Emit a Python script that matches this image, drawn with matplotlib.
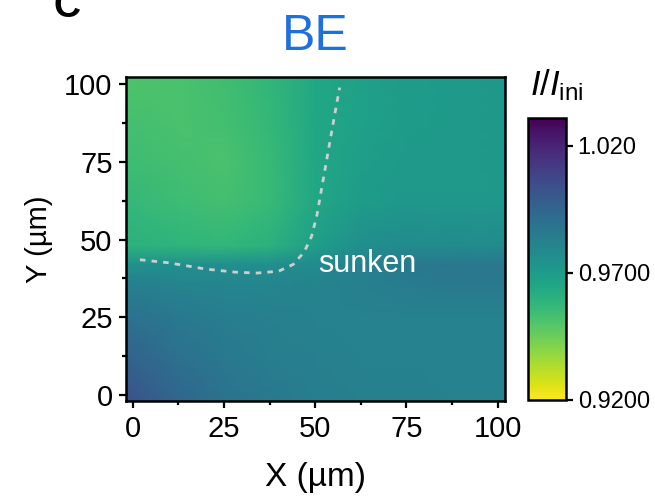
import numpy as np
import matplotlib
matplotlib.use('Agg')
from matplotlib import pyplot as plt
from matplotlib.ticker import MultipleLocator, AutoMinorLocator

plt.rcParams.update({
    'font.family': ['Liberation Sans', 'DejaVu Sans'],
    'mathtext.fontset': 'custom',
    'mathtext.rm': 'Liberation Sans',
    'mathtext.it': 'Liberation Sans:italic',
})

# grid (x, y in um), values are I/I_ini
xs = [-2, 12.5, 25, 37.5, 50, 62.5, 75, 87.5, 102]
ys = [-2, 12.5, 25, 36, 42, 48, 62.5, 75, 87.5, 103]
vals = [
    [1.003, 0.995, 0.989, 0.986, 0.984, 0.983, 0.983, 0.982, 0.982],
    [0.996, 0.990, 0.986, 0.984, 0.983, 0.982, 0.982, 0.982, 0.982],
    [0.990, 0.986, 0.984, 0.983, 0.982, 0.982, 0.982, 0.982, 0.982],
    [0.983, 0.981, 0.980, 0.980, 0.981, 0.983, 0.985, 0.986, 0.986],
    [0.975, 0.976, 0.976, 0.976, 0.978, 0.982, 0.986, 0.987, 0.987],
    [0.960, 0.959, 0.958, 0.960, 0.969, 0.976, 0.978, 0.978, 0.978],
    [0.957, 0.955, 0.953, 0.956, 0.965, 0.970, 0.972, 0.972, 0.972],
    [0.955, 0.953, 0.952, 0.956, 0.965, 0.969, 0.971, 0.971, 0.972],
    [0.953, 0.952, 0.953, 0.957, 0.965, 0.968, 0.970, 0.971, 0.972],
    [0.951, 0.952, 0.954, 0.958, 0.965, 0.968, 0.970, 0.971, 0.972],
]

# dashed boundary of the sunken area
line_x = [2, 10, 20, 28, 34, 40, 44, 47, 49, 50.5, 52, 53.5, 55, 56.7]
line_y = [43.5, 42.5, 40.5, 39.5, 39.2, 39.8, 42, 46, 51, 58, 68, 78, 88, 99]

cticks = [0.92, 0.97, 1.02]
ctick_labels = ['0.9200', '0.9700', '1.020']

fig = plt.figure(figsize=(6.55, 4.98), dpi=100)
ax = fig.add_axes([0.193, 0.195, 0.578, 0.651])
cax = fig.add_axes([0.806, 0.197, 0.058, 0.566])

X, Y = np.meshgrid(xs, ys)
mesh = ax.pcolormesh(X, Y, np.array(vals), shading='gouraud', cmap='viridis_r',
                     vmin=0.92, vmax=1.031, rasterized=True)
ax.plot(line_x, line_y, ls=(0, (2, 2.2)), color='#cfcfcf', lw=2)
ax.text(50.7, 39.4, 'sunken', color='white', fontsize=22, va='baseline', ha='left')

ax.set_xlim(-1.7, 102)
ax.set_ylim(-2, 102.5)
ax.xaxis.set_major_locator(MultipleLocator(25))
ax.yaxis.set_major_locator(MultipleLocator(25))
ax.xaxis.set_minor_locator(AutoMinorLocator(2))
ax.yaxis.set_minor_locator(AutoMinorLocator(2))
ax.tick_params(which='major', length=5, width=1.6, labelsize=21, pad=5, direction='out')
ax.tick_params(which='minor', length=3, width=1.6, direction='out')
for s in ax.spines.values():
    s.set_linewidth(1.8)
ax.set_xlabel('X (µm)', fontsize=24, labelpad=14)
ax.set_ylabel('Y (µm)', fontsize=21, labelpad=8)
ax.set_title('BE', color='#1f6fdc', fontsize=36, pad=19)

cb = fig.colorbar(mesh, cax=cax)
cb.set_ticks(cticks)
cb.set_ticklabels(ctick_labels)
cb.outline.set_linewidth(1.8)
cax.tick_params(length=5, width=1.6, labelsize=17)
cb.minorticks_off()
cax.text(0.05, 1.082, r'$\mathit{I}/\mathit{I}_{\mathrm{ini}}$', transform=cax.transAxes,
         ha='left', va='baseline', fontsize=25)

fig.text(0.082, 0.966, 'C', fontsize=27, fontweight='bold', va='baseline')

fig.savefig('out.png', dpi=100)
